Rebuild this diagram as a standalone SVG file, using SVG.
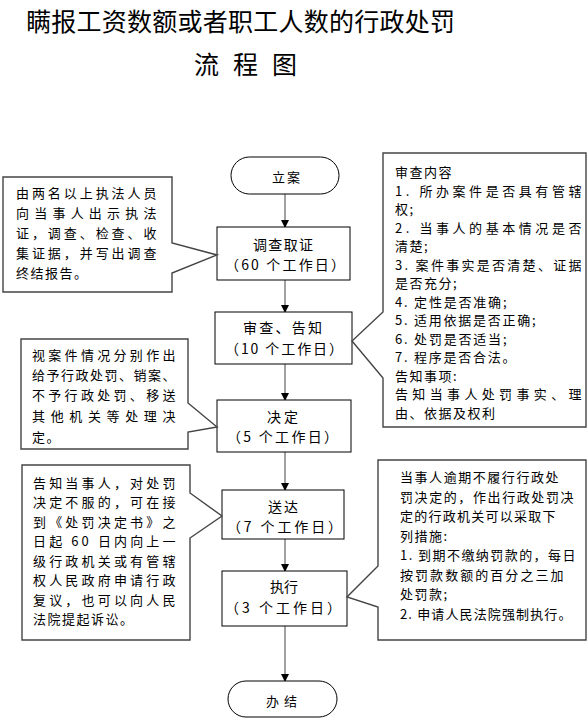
<svg xmlns="http://www.w3.org/2000/svg" width="587" height="718" viewBox="0 0 587 718">
<style>
.title{font-family:"Noto Sans CJK SC","Noto Sans CJK TC",sans-serif;font-size:25px;fill:#000}
.t{font-family:"Noto Sans CJK SC","Noto Sans CJK TC",sans-serif;font-size:13px;fill:#000;letter-spacing:1.5px}
.n{font-family:"Noto Sans CJK SC","Noto Sans CJK TC",sans-serif;font-size:14px;fill:#000}
.box{fill:#fff;stroke:#000;stroke-width:1}
.call{fill:#fff;stroke:#444;stroke-width:1.4}
.conn{stroke:#444;stroke-width:1;fill:none}
</style>
<defs>
<marker id="ah" markerWidth="8" markerHeight="8" refX="7" refY="4" orient="auto" markerUnits="userSpaceOnUse">
<path d="M0,0 L8,4 L0,8 Z" fill="#000"/>
</marker>
</defs>
<rect width="587" height="718" fill="#fff"/>

<g id="title">
<text class="title" x="26" y="31" textLength="429" lengthAdjust="spacing">瞒报工资数额或者职工人数的行政处罚</text>
<text class="title" x="194" y="74" textLength="103" lengthAdjust="spacing">流 程 图</text>
</g>

<g id="connectors">
<line class="conn" x1="285" y1="194" x2="285" y2="227" marker-end="url(#ah)"/>
<line class="conn" x1="285" y1="280" x2="285" y2="312" marker-end="url(#ah)"/>
<line class="conn" x1="285" y1="364" x2="285" y2="400" marker-end="url(#ah)"/>
<line class="conn" x1="285" y1="452" x2="285" y2="490" marker-end="url(#ah)"/>
<line class="conn" x1="285" y1="539" x2="285" y2="571" marker-end="url(#ah)"/>
<line class="conn" x1="285" y1="626" x2="285" y2="681" marker-end="url(#ah)"/>
</g>

<g id="start">
<rect class="box" x="231" y="157" width="108" height="37" rx="18.5"/>
<text class="n" x="272" y="182" style="font-size:13px" textLength="28" lengthAdjust="spacing">立案</text>
</g>

<g id="n1">
<rect class="box" x="217" y="227" width="133" height="53"/>
<text class="n" x="253" y="250" textLength="60" lengthAdjust="spacing">调查取证</text>
<text class="n" x="225" y="270" textLength="120" lengthAdjust="spacing">（60 个工作日）</text>
</g>

<g id="n2">
<rect class="box" x="215" y="312" width="137" height="52"/>
<text class="n" x="243" y="333" textLength="79" lengthAdjust="spacing">审查、告知</text>
<text class="n" x="225" y="354" textLength="118" lengthAdjust="spacing">（10 个工作日）</text>
</g>

<g id="n3">
<rect class="box" x="217" y="400" width="134" height="52"/>
<text class="n" x="267" y="422" textLength="31" lengthAdjust="spacing">决定</text>
<text class="n" x="227" y="442" textLength="111" lengthAdjust="spacing">（5 个工作日）</text>
</g>

<g id="n4">
<rect class="box" x="222" y="490" width="122" height="49"/>
<text class="n" x="268" y="512" textLength="30" lengthAdjust="spacing">送达</text>
<text class="n" x="227" y="532" textLength="115" lengthAdjust="spacing">（7 个工作日）</text>
</g>

<g id="n5">
<rect class="box" x="222" y="571" width="125" height="55"/>
<text class="n" x="270" y="592" textLength="28" lengthAdjust="spacing">执行</text>
<text class="n" x="225" y="613" textLength="116" lengthAdjust="spacing">（3 个工作日）</text>
</g>

<g id="end">
<rect class="box" x="228" y="681" width="109" height="36" rx="18"/>
<text class="n" x="266" y="706" style="font-size:13px" textLength="31" lengthAdjust="spacing">办结</text>
</g>

<g id="note-investigate">
<path class="call" d="M3,177 H172 V243 L217,255 L172,273 V292 H3 Z"/>
<text class="t" x="16" y="198" textLength="142" lengthAdjust="spacing">由两名以上执法人员</text>
<text class="t" x="16" y="218" textLength="142" lengthAdjust="spacing">向当事人出示执法</text>
<text class="t" x="16" y="238" textLength="142" lengthAdjust="spacing">证，调查、检查、收</text>
<text class="t" x="16" y="258" textLength="142" lengthAdjust="spacing">集证据，并写出调查</text>
<text class="t" x="16" y="278">终结报告。</text>
</g>

<g id="note-review">
<path class="call" d="M383,153 H586 V427 H383 V378 L352,341 L383,312 Z"/>
<text class="t" x="395" y="177">审查内容</text>
<text class="t" x="395" y="195.5" textLength="188" lengthAdjust="spacing">1. 所办案件是否具有管辖</text>
<text class="t" x="395" y="214">权;</text>
<text class="t" x="395" y="232.5" textLength="188" lengthAdjust="spacing">2. 当事人的基本情况是否</text>
<text class="t" x="395" y="251">清楚;</text>
<text class="t" x="395" y="269.5" textLength="188" lengthAdjust="spacing">3. 案件事实是否清楚、证据</text>
<text class="t" x="395" y="288">是否充分;</text>
<text class="t" x="395" y="306.5" textLength="113" lengthAdjust="spacing">4. 定性是否准确;</text>
<text class="t" x="395" y="325" textLength="142" lengthAdjust="spacing">5. 适用依据是否正确;</text>
<text class="t" x="395" y="343.5" textLength="113" lengthAdjust="spacing">6. 处罚是否适当;</text>
<text class="t" x="395" y="362" textLength="122" lengthAdjust="spacing">7. 程序是否合法。</text>
<text class="t" x="395" y="380.5">告知事项:</text>
<text class="t" x="395" y="399" textLength="188" lengthAdjust="spacing">告知当事人处罚事实、理</text>
<text class="t" x="395" y="417.5">由、依据及权利</text>
</g>

<g id="note-decide">
<path class="call" d="M21,339 H188 V403 L217,427 L188,432 V449 H21 Z"/>
<text class="t" x="32" y="360" textLength="145" lengthAdjust="spacing">视案件情况分别作出</text>
<text class="t" x="32" y="380" textLength="145" lengthAdjust="spacing">给予行政处罚、销案、</text>
<text class="t" x="32" y="400" textLength="145" lengthAdjust="spacing">不予行政处罚、移送</text>
<text class="t" x="32" y="421" textLength="145" lengthAdjust="spacing">其他机关等处理决</text>
<text class="t" x="32" y="442">定。</text>
</g>

<g id="note-deliver">
<path class="call" d="M22,465 H190 V493 L222,516 L190,538 V640 H22 Z"/>
<text class="t" x="33" y="488" textLength="144" lengthAdjust="spacing">告知当事人，对处罚</text>
<text class="t" x="33" y="507" textLength="144" lengthAdjust="spacing">决定不服的，可在接</text>
<text class="t" x="33" y="527" textLength="144" lengthAdjust="spacing">到《处罚决定书》之</text>
<text class="t" x="33" y="546" textLength="144" lengthAdjust="spacing">日起 60 日内向上一</text>
<text class="t" x="33" y="566" textLength="144" lengthAdjust="spacing">级行政机关或有管辖</text>
<text class="t" x="33" y="585" textLength="144" lengthAdjust="spacing">权人民政府申请行政</text>
<text class="t" x="33" y="605" textLength="144" lengthAdjust="spacing">复议，也可以向人民</text>
<text class="t" x="33" y="624">法院提起诉讼。</text>
</g>

<g id="note-execute">
<path class="call" d="M378,460 H586 V640 H378 V607 L347,597 L378,566 Z"/>
<text class="t" x="400" y="482" textLength="160" lengthAdjust="spacing">当事人逾期不履行行政处</text>
<text class="t" x="400" y="501.5" textLength="175" lengthAdjust="spacing">罚决定的，作出行政处罚决</text>
<text class="t" x="400" y="521" textLength="157" lengthAdjust="spacing">定的行政机关可以采取下</text>
<text class="t" x="400" y="540.5">列措施:</text>
<text class="t" x="400" y="560" textLength="177" lengthAdjust="spacing">1. 到期不缴纳罚款的，每日</text>
<text class="t" x="400" y="579.5" textLength="165" lengthAdjust="spacing">按罚款数额的百分之三加</text>
<text class="t" x="400" y="599">处罚款;</text>
<text class="t" x="400" y="618.5" textLength="173" lengthAdjust="spacing">2. 申请人民法院强制执行。</text>
</g>
</svg>
